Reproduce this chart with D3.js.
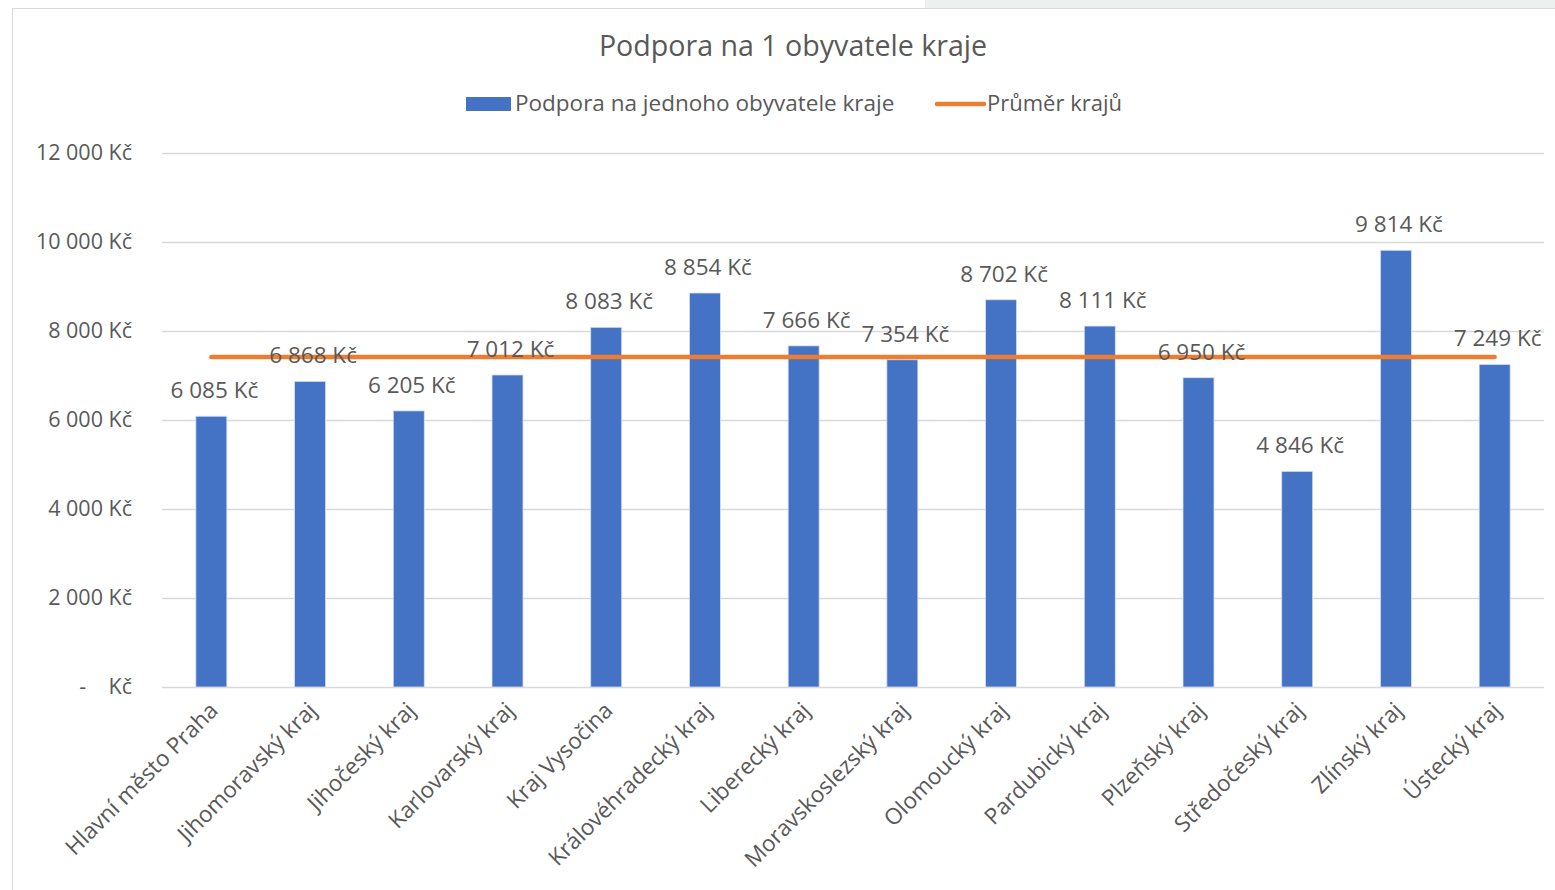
<!DOCTYPE html>
<html>
<head>
<meta charset="utf-8">
<script src="https://cdn.jsdelivr.net/npm/d3@7"></script>
<style>
  body { margin: 0; background: #fff; }
  text { font-family: "Open Sans", Lato, sans-serif; fill: #595959; }
</style>
</head>
<body>
<svg id="chart" width="1555" height="890"></svg>
<script>
"use strict";

// Categories (regions) and values.
var regions = [
    "Hlavní město Praha", "Jihomoravský kraj", "Jihočeský kraj", "Karlovarský kraj",
    "Kraj Vysočina", "Královéhradecký kraj", "Liberecký kraj", "Moravskoslezský kraj",
    "Olomoucký kraj", "Pardubický kraj", "Plzeňský kraj", "Středočeský kraj",
    "Zlínský kraj", "Ústecký kraj"
];
var supportPerCapita = [6085, 6868, 6205, 7012, 8083, 8854, 7666, 7354, 8702, 8111, 6950, 4846, 9814, 7249];
var regionsAverage = [7414, 7414, 7414, 7414, 7414, 7414, 7414, 7414, 7414, 7414, 7414, 7414, 7414, 7414];
var yTicks = [0, 2000, 4000, 6000, 8000, 10000, 12000];

var title = "Podpora na 1 obyvatele kraje";
var seriesNames = ["Podpora na jednoho obyvatele kraje", "Průměr krajů"];

var svg = d3.select("#chart");

// frame of the chart area and the grey strip above it (screenshot leftovers)
svg.append("rect").attr("x", 925).attr("y", 0).attr("width", 630).attr("height", 8).attr("fill", "#eef0f0");
svg.append("rect").attr("x", 12.5).attr("y", 8.5).attr("width", 1560).attr("height", 900)
    .attr("fill", "#fff").attr("stroke", "#d9d9d9");

var margin = { left: 162, right: 1544, top: 153, bottom: 687 };

var x = d3.scaleBand().domain(regions).range([margin.left, margin.right])
    .paddingInner(0.686).paddingOuter(0.343);
var y = d3.scaleLinear().domain([0, 12000]).range([margin.bottom, margin.top]);

function fmt(v) {
    return d3.format(",")(v).replace(/,/g, " ") + " Kč";
}

// gridlines
svg.append("g").selectAll("line").data(yTicks).join("line")
    .attr("x1", margin.left).attr("x2", margin.right)
    .attr("y1", d => y(d) + 0.5).attr("y2", d => y(d) + 0.5)
    .attr("stroke", "#d9d9d9").attr("stroke-width", 1.3);

// y tick labels
svg.append("g").selectAll("text").data(yTicks).join("text")
    .attr("x", 132).attr("y", d => y(d) + 7)
    .attr("text-anchor", "end").style("font-size", "21.5px")
    .style("white-space", "pre")
    .text(d => d === 0 ? "-    Kč" : fmt(d));

// bars
svg.append("g").selectAll("rect").data(supportPerCapita).join("rect")
    .attr("x", (d, i) => x(regions[i]))
    .attr("y", d => y(d))
    .attr("width", x.bandwidth())
    .attr("height", d => y(0) - y(d))
    .attr("fill", "#4472c4")
    .attr("stroke", "#d6e0f2").attr("stroke-width", 0.8);

// average line
var line = d3.line()
    .x((d, i) => x(regions[i]) + x.bandwidth() / 2)
    .y(d => y(d));
svg.append("path").datum(regionsAverage)
    .attr("d", line).attr("fill", "none")
    .attr("stroke", "#ed7d31").attr("stroke-width", 4.5).attr("stroke-linecap", "round");

// data labels
svg.append("g").selectAll("text").data(supportPerCapita).join("text")
    .attr("x", (d, i) => x(regions[i]) + x.bandwidth() / 2 + 3)
    .attr("y", d => y(d) - 18)
    .attr("text-anchor", "middle").style("font-size", "22.5px")
    .text(fmt);

// category labels, rotated
svg.append("g").selectAll("text").data(regions).join("text")
    .attr("transform", d => "translate(" + (x(d) + x.bandwidth() / 2 + 8) + "," + 712 + ") rotate(-45)")
    .attr("text-anchor", "end").style("font-size", "22.5px")
    .text(d => d);

// title
svg.append("text").attr("x", 793).attr("y", 56)
    .attr("text-anchor", "middle").style("font-size", "28.6px")
    .text(title);

// legend
svg.append("rect").attr("x", 466).attr("y", 97).attr("width", 45).attr("height", 14).attr("fill", "#4472c4");
svg.append("text").attr("x", 515).attr("y", 111).style("font-size", "22.5px").text(seriesNames[0]);
svg.append("line").attr("x1", 937).attr("x2", 984).attr("y1", 104).attr("y2", 104)
    .attr("stroke", "#ed7d31").attr("stroke-width", 4.5).attr("stroke-linecap", "round");
svg.append("text").attr("x", 987).attr("y", 111).style("font-size", "22px").text(seriesNames[1]);
</script>
</body>
</html>
